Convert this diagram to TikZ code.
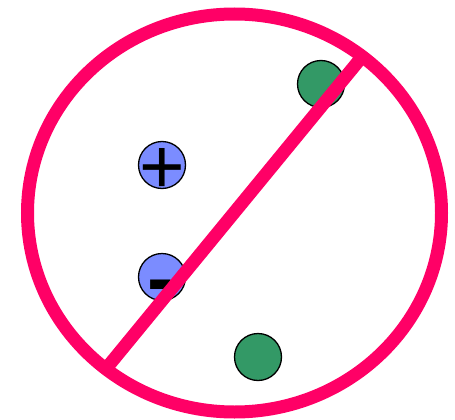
\documentclass[tikz,border=0pt]{standalone}
\usepackage{fontspec}
\setmainfont{Liberation Sans}
\definecolor{ringpink}{HTML}{FF0066}
\definecolor{ionblue}{HTML}{7B8CFF}
\definecolor{molgreen}{HTML}{339966}
\begin{document}
\begin{tikzpicture}[x=1pt,y=-1pt,
  ion/.style={circle,draw=black,line width=1.3pt,fill=ionblue,minimum size=47pt,inner sep=0pt},
  mol/.style={circle,draw=black,line width=1.3pt,fill=molgreen,minimum size=47pt,inner sep=0pt},
  sign/.style={inner sep=0pt,font=\fontsize{80}{80}\selectfont\bfseries},
  ban/.style={draw=ringpink,line width=13pt}]
\useasboundingbox (0,0) rectangle (455,420);
\node[mol] (m1) at (321,84) {};
\node[mol] (m2) at (258,357) {};
\node[ion] (p) at (162,165) {};
\node[ion] (n) at (162,277) {};
\node[sign,font=\fontsize{78}{78}\selectfont] (ps) at (162,171) {+};
\node[sign] (ns) at (161,293) {-};
\coordinate (c) at (234.5,213);
\draw[ban] (c) ellipse [x radius=207, y radius=199];
\coordinate (e1) at (362.7,56);
\coordinate (e2) at (105.8,369);
\draw[ban] (e2) -- (e1);
\end{tikzpicture}
\end{document}
